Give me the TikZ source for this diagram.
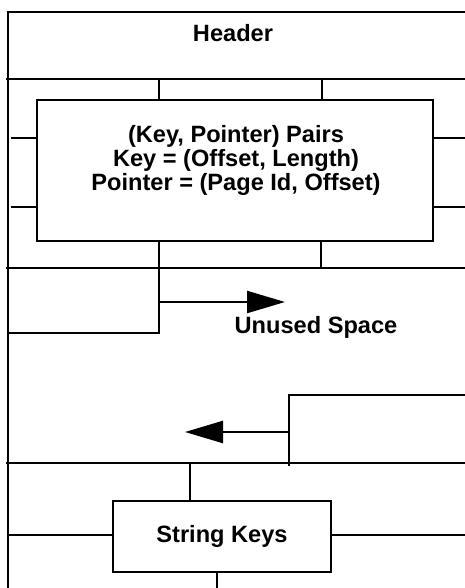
\documentclass[tikz,border=0pt]{standalone}
\usepackage{fontspec}
\setmainfont{Liberation Sans}
\usetikzlibrary{positioning,arrows.meta,calc}

\begin{document}
\begin{tikzpicture}[x=1pt, y=-1pt, line width=1.6pt,
    font=\fontsize{23.6}{24}\selectfont\bfseries,
    area/.style={draw, rectangle, inner sep=0pt},
    growarrow/.style={line width=2.4pt, -{Triangle[length=38pt,width=22pt]}}]
\useasboundingbox (0,0) rectangle (465,588);

% Page frame (top and left edge)
\draw (465,12) -- (8,12) -- (8,588);
\node (header) at (233,33) {Header};

% Slot dividers
\foreach \y in {79,268,463} {
    \draw (6,\y) -- (465,\y);
}

% Key/pointer pair area
\node[area, minimum width=396pt, minimum height=141pt] (pairs) at (235,170.5) {};
\node[align=center] (pairstext) at (236,160)
    {(Key, Pointer) Pairs\\Key = (Offset, Length)\\Pointer = (Page Id, Offset)};
\foreach \x in {159,322} {
    \draw (\x,79) -- (\x,79 |- pairs.north);
}
\foreach \y in {138,207} {
    \draw (11,\y) -- (pairs.west |- 0,\y);
    \draw (pairs.east |- 0,\y) -- (465,\y);
}
\draw (pairs.south -| 321,0) -- (321,268);
\draw (pairs.south -| 159,0) -- (159,333) -- (8,333);

% Free space grows towards the middle
\coordinate (growfrom) at (159,302);
\coordinate (growto) at (285,302);
\draw[growarrow] (growfrom) -- (growto);
\node (unused) at (316,327) {Unused Space};

\draw (465,395) -- (289,395) -- (289,466);
\coordinate (heapfrom) at (289,432);
\coordinate (heapto) at (185,432);
\draw[growarrow] (heapfrom) -- (heapto);

% String key area
\node[area, minimum width=218pt, minimum height=71pt] (strings) at (222,536.5) {String Keys};
\draw (190,463) -- (strings.north -| 190,0);
\draw (8,535) -- (strings.west |- 0,535);
\draw (strings.east |- 0,535) -- (465,535);
\draw (strings.south -| 217,0) -- (217,588);
\end{tikzpicture}
\end{document}
